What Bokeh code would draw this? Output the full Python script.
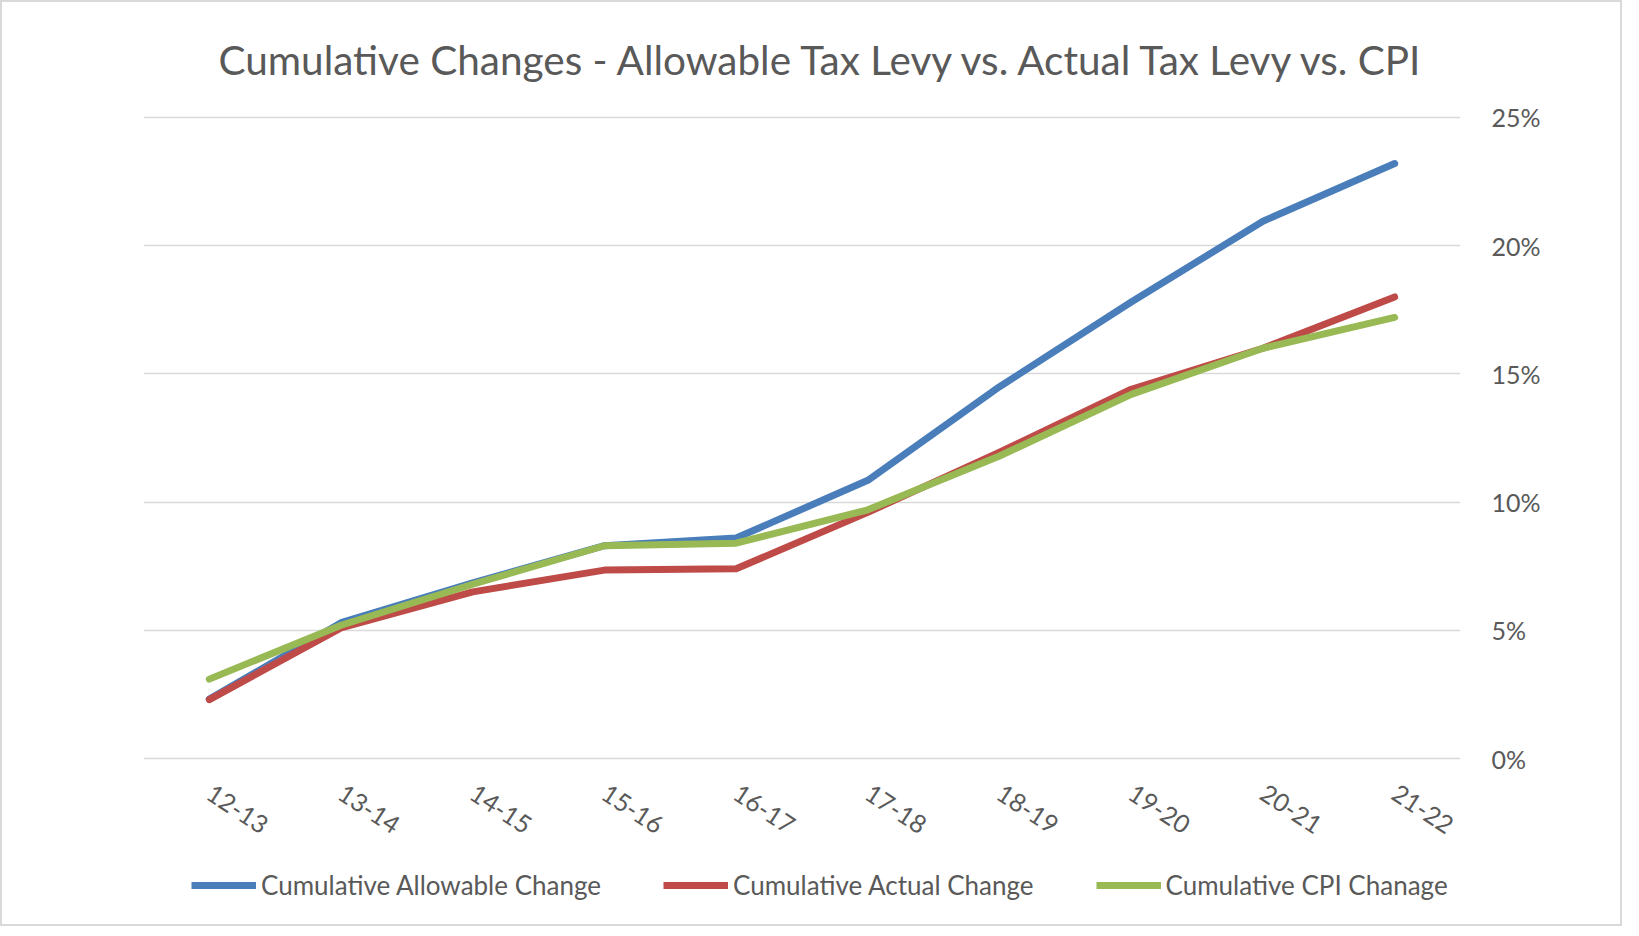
from bokeh.plotting import figure
from bokeh.layouts import column
from bokeh.models import (FactorRange, Range1d, FixedTicker, NumeralTickFormatter,
                          LinearAxis, Legend, LegendItem, Title)
from bokeh.embed import file_html
from bokeh.resources import INLINE

categories = ["12-13", "13-14", "14-15", "15-16", "16-17", "17-18", "18-19", "19-20", "20-21", "21-22"]
allowable = [0.0232, 0.0530, 0.0685, 0.0830, 0.0860, 0.1085, 0.1450, 0.1780, 0.2095, 0.2320]
actual = [0.0230, 0.0510, 0.0650, 0.0735, 0.0740, 0.0960, 0.1195, 0.1440, 0.1600, 0.1800]
cpi = [0.0310, 0.0520, 0.0680, 0.0830, 0.0840, 0.0970, 0.1180, 0.1420, 0.1600, 0.1720]
y_ticks = [0.0, 0.05, 0.10, 0.15, 0.20, 0.25]
series_names = ["Cumulative Allowable Change", "Cumulative Actual Change", "Cumulative CPI Chanage"]
title_text = "Cumulative Changes - Allowable Tax Levy vs. Actual Tax Levy vs. CPI"

FONT = "Lato"
TXT = "#595959"
colors = ["#4a7ebb", "#be4b48", "#98b954"]
series = [allowable, actual, cpi]

p = figure(frame_width=1317, frame_height=649, x_range=FactorRange(*categories),
           y_range=Range1d(-0.0015, 0.2515), output_backend="svg", toolbar_location=None,
           y_axis_location=None, min_border_left=141, min_border_right=160,
           min_border_top=109, min_border_bottom=100)
p.outline_line_color = None
p.background_fill_color = "white"
p.border_fill_color = "white"

t = Title(text=title_text, align="left", text_font=FONT, text_font_size="40.5px",
          text_font_style="normal", text_color=TXT, offset=75, standoff=60)
p.add_layout(t, "above")

yaxis = LinearAxis(ticker=FixedTicker(ticks=y_ticks), formatter=NumeralTickFormatter(format="0%"))
yaxis.axis_line_color = None
yaxis.major_tick_line_color = None
yaxis.minor_tick_line_color = None
yaxis.major_label_text_font = FONT
yaxis.major_label_text_font_size = "25px"
yaxis.major_label_text_color = TXT
yaxis.major_label_standoff = 25
p.add_layout(yaxis, "right")

p.ygrid.ticker = FixedTicker(ticks=y_ticks)
p.ygrid.grid_line_color = "#d9d9d9"
p.ygrid.grid_line_width = 1.5
p.xgrid.grid_line_color = None

xa = p.xaxis[0]
xa.axis_line_color = None
xa.major_tick_line_color = None
xa.minor_tick_line_color = None
xa.major_label_orientation = -0.58
xa.major_label_text_font = FONT
xa.major_label_text_font_size = "25px"
xa.major_label_text_color = TXT
xa.major_label_standoff = 22

for vals, c in zip(series, colors):
    p.line(categories, vals, line_color=c, line_width=7, line_cap="round", line_join="round")

# legend strip below the chart (its renderers are hidden; only the legend shows)
lg = figure(width=1617, height=62, x_range=Range1d(0, 1), y_range=Range1d(0, 1),
            output_backend="svg", toolbar_location=None, x_axis_location=None,
            y_axis_location=None, min_border=0)
lg.outline_line_color = None
lg.xgrid.visible = False
lg.ygrid.visible = False
lg_renderers = [lg.line(x=list(range(len(v))), y=v, line_color=c, line_width=7, visible=False)
                for v, c in zip(series, colors)]
legend = Legend(items=[LegendItem(label=n, renderers=[r]) for n, r in zip(series_names, lg_renderers)],
                orientation="horizontal", location=(48, 23))
legend.label_text_font = FONT
legend.label_text_font_size = "26px"
legend.label_text_color = TXT
legend.glyph_width = 65
legend.glyph_height = 26
legend.label_standoff = 5
legend.spacing = 62
legend.border_line_color = None
legend.background_fill_alpha = 0
legend.margin = 0
legend.padding = 0
legend.click_policy = "none"
lg.add_layout(legend, "center")

layout = column(p, lg, spacing=0)
layout.styles = {"border": "2px solid #d9d9d9"}

open("out.html", "w").write(file_html(layout, INLINE))
